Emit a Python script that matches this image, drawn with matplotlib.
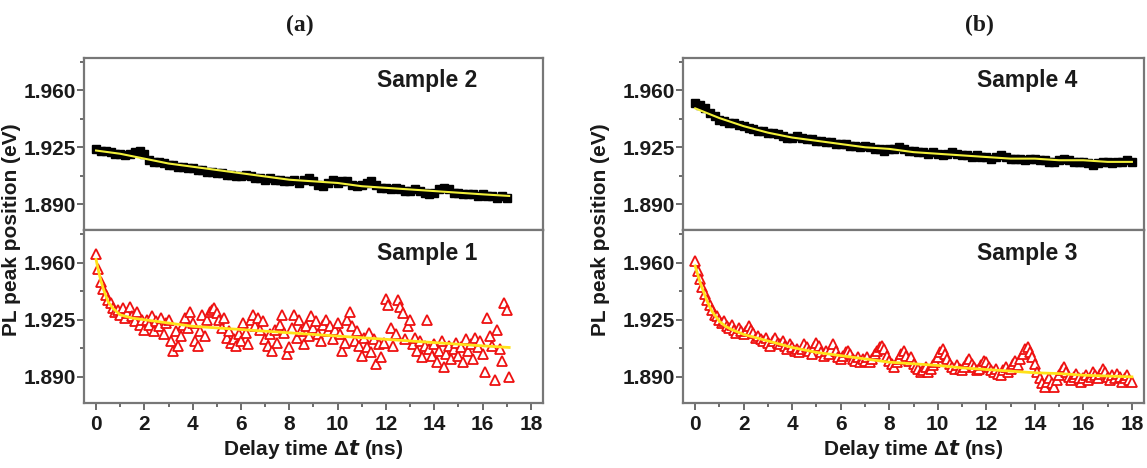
"""PL peak position vs delay time for four samples, two stacked panels (a) and (b)."""

import matplotlib

matplotlib.use("Agg")
import matplotlib.pyplot as plt
import numpy as np
from matplotlib.ticker import FormatStrFormatter, MultipleLocator

# ---- data ------------------------------------------------------------------

# Sample 2 (panel a, top): sampled every 0.2 ns from 0 to 17.0 ns
s2_time = np.arange(0, 17.05, 0.2)
s2_peak = [
    1.924, 1.923, 1.923, 1.922, 1.921, 1.921, 1.920, 1.921, 1.922, 1.923,
    1.921, 1.917, 1.916, 1.916, 1.915, 1.914, 1.914, 1.913, 1.913, 1.912,
    1.912, 1.911, 1.911, 1.910, 1.910, 1.909, 1.909, 1.908, 1.908, 1.907,
    1.907, 1.908, 1.907, 1.906, 1.906, 1.905, 1.906, 1.905, 1.905, 1.904,
    1.904, 1.905, 1.903, 1.905, 1.906, 1.904, 1.902, 1.901, 1.903, 1.905,
    1.903, 1.904, 1.904, 1.902, 1.901, 1.902, 1.903, 1.904, 1.902, 1.900,
    1.900, 1.899, 1.900, 1.899, 1.898, 1.898, 1.899, 1.898, 1.897, 1.896,
    1.897, 1.899, 1.900, 1.899, 1.897, 1.897, 1.896, 1.896, 1.896, 1.895,
    1.896, 1.895, 1.895, 1.894, 1.895, 1.894,
]
s2_fit_time = [0, 1, 2, 3, 4, 5, 6, 7, 8, 9, 10, 11, 12, 13, 14, 15, 16, 17.1]
s2_fit_peak = [1.923, 1.921, 1.918, 1.915, 1.913, 1.911, 1.909, 1.907, 1.905,
               1.904, 1.903, 1.901, 1.900, 1.899, 1.898, 1.897, 1.896, 1.895]

# Sample 1 (panel a, bottom): sampled every 0.1 ns from 0 to 17.1 ns
s1_time = np.arange(0, 17.15, 0.1)
s1_peak = [
    1.965, 1.956, 1.948, 1.944, 1.940, 1.937, 1.935, 1.932, 1.930, 1.931,
    1.928, 1.932, 1.926, 1.929, 1.933, 1.927, 1.924, 1.930, 1.922, 1.925,
    1.919, 1.925, 1.922, 1.927, 1.918, 1.924, 1.921, 1.926, 1.916, 1.923,
    1.925, 1.912, 1.906, 1.918, 1.909, 1.915, 1.922, 1.926, 1.920, 1.930,
    1.923, 1.912, 1.909, 1.918, 1.928, 1.915, 1.925, 1.930, 1.931, 1.932,
    1.929, 1.925, 1.920, 1.926, 1.914, 1.918, 1.911, 1.913, 1.909, 1.916,
    1.912, 1.923, 1.917, 1.910, 1.925, 1.928, 1.921, 1.926, 1.919, 1.924,
    1.913, 1.909, 1.916, 1.906, 1.919, 1.911, 1.922, 1.928, 1.917, 1.904,
    1.908, 1.920, 1.928, 1.914, 1.925, 1.918, 1.910, 1.921, 1.915, 1.927,
    1.920, 1.924, 1.916, 1.912, 1.922, 1.925, 1.918, 1.921, 1.913, 1.919,
    1.923, 1.916, 1.906, 1.911, 1.925, 1.930, 1.921, 1.912, 1.918, 1.909,
    1.903, 1.914, 1.908, 1.917, 1.905, 1.913, 1.898, 1.910, 1.902, 1.911,
    1.938, 1.934, 1.920, 1.909, 1.916, 1.937, 1.933, 1.929, 1.913, 1.921,
    1.925, 1.910, 1.914, 1.906, 1.912, 1.902, 1.909, 1.925, 1.907, 1.903,
    1.910, 1.899, 1.906, 1.912, 1.896, 1.904, 1.909, 1.901, 1.907, 1.911,
    1.903, 1.908, 1.899, 1.913, 1.906, 1.910, 1.901, 1.914, 1.908, 1.912,
    1.904, 1.893, 1.926, 1.915, 1.909, 1.888, 1.919, 1.907, 1.900, 1.935,
    1.931, 1.890,
]
s1_fit_time = [0, 0.1, 0.2, 0.3, 0.4, 0.5, 0.7, 1.0, 1.5, 2, 3, 4, 6, 8, 10,
               12, 14, 16, 17.1]
s1_fit_peak = [1.962, 1.955, 1.949, 1.944, 1.940, 1.936, 1.932, 1.928, 1.926,
               1.925, 1.923, 1.921, 1.919, 1.917, 1.915, 1.913, 1.911, 1.909,
               1.908]

# Sample 4 (panel b, top): sampled every 0.2 ns from 0 to 18.0 ns
s4_time = np.arange(0, 18.05, 0.2)
s4_peak = [
    1.952, 1.951, 1.949, 1.946, 1.944, 1.942, 1.941, 1.940, 1.940, 1.939,
    1.938, 1.937, 1.936, 1.935, 1.935, 1.934, 1.934, 1.933, 1.932, 1.931,
    1.931, 1.932, 1.931, 1.930, 1.930, 1.929, 1.929, 1.928, 1.928, 1.927,
    1.927, 1.927, 1.926, 1.926, 1.925, 1.926, 1.925, 1.924, 1.924, 1.923,
    1.924, 1.924, 1.925, 1.924, 1.923, 1.923, 1.922, 1.922, 1.921, 1.922,
    1.921, 1.920, 1.921, 1.922, 1.921, 1.920, 1.920, 1.919, 1.920, 1.919,
    1.919, 1.918, 1.919, 1.920, 1.919, 1.918, 1.918, 1.918, 1.917, 1.918,
    1.918, 1.917, 1.917, 1.916, 1.916, 1.917, 1.918, 1.917, 1.916, 1.916,
    1.916, 1.915, 1.914, 1.915, 1.916, 1.916, 1.915, 1.916, 1.916, 1.917,
    1.916,
]
s4_fit_time = [0, 0.5, 1, 2, 3, 4, 5, 6, 7, 8, 9, 10, 11, 12, 13, 14, 15, 16,
               17, 18]
s4_fit_peak = [1.949, 1.946, 1.943, 1.938, 1.934, 1.931, 1.929, 1.927, 1.925,
               1.924, 1.922, 1.921, 1.920, 1.919, 1.918, 1.918, 1.917, 1.917,
               1.916, 1.916]

# Sample 3 (panel b, bottom): sampled every 0.1 ns from 0 to 18.0 ns
s3_time = np.arange(0, 18.05, 0.1)
s3_peak = [
    1.961, 1.955, 1.950, 1.945, 1.941, 1.937, 1.934, 1.931, 1.928, 1.927,
    1.925, 1.923, 1.924, 1.921, 1.920, 1.922, 1.919, 1.917, 1.920, 1.918,
    1.916, 1.918, 1.921, 1.919, 1.917, 1.914, 1.915, 1.913, 1.912, 1.914,
    1.911, 1.909, 1.912, 1.914, 1.911, 1.910, 1.912, 1.909, 1.907, 1.910,
    1.908, 1.906, 1.907, 1.905, 1.907, 1.910, 1.908, 1.906, 1.904, 1.908,
    1.911, 1.909, 1.905, 1.903, 1.906, 1.904, 1.907, 1.910, 1.906, 1.902,
    1.901, 1.903, 1.905, 1.906, 1.904, 1.901, 1.900, 1.902, 1.899, 1.901,
    1.900, 1.902, 1.899, 1.901, 1.904, 1.906, 1.908, 1.909, 1.907, 1.903,
    1.900, 1.898, 1.896, 1.899, 1.901, 1.904, 1.906, 1.903, 1.900, 1.902,
    1.898, 1.896, 1.895, 1.893, 1.894, 1.896, 1.893, 1.895, 1.897, 1.899,
    1.902, 1.905, 1.907, 1.904, 1.901, 1.898, 1.896, 1.895, 1.897, 1.895,
    1.894, 1.896, 1.899, 1.901, 1.898, 1.896, 1.894, 1.895, 1.897, 1.900,
    1.899, 1.896, 1.894, 1.893, 1.895, 1.892, 1.891, 1.894, 1.896, 1.893,
    1.895, 1.898, 1.900, 1.897, 1.901, 1.904, 1.907, 1.908, 1.905, 1.902,
    1.898, 1.893, 1.889, 1.886, 1.884, 1.887, 1.889, 1.886, 1.884, 1.888,
    1.891, 1.894, 1.896, 1.893, 1.890, 1.888, 1.890, 1.892, 1.889, 1.887,
    1.889, 1.891, 1.888, 1.890, 1.893, 1.891, 1.889, 1.892, 1.895, 1.893,
    1.890, 1.888, 1.891, 1.889, 1.892, 1.890, 1.887, 1.889, 1.891, 1.888,
    1.887,
]
s3_fit_time = [0, 0.1, 0.2, 0.3, 0.4, 0.5, 0.6, 0.7, 0.8, 0.9, 1.0, 1.25, 1.5,
               2, 2.5, 3, 4, 5, 6, 7, 8, 9, 10, 11, 12, 13, 14, 15, 16, 17, 18]
s3_fit_peak = [1.958, 1.953, 1.948, 1.944, 1.940, 1.936, 1.933, 1.930, 1.928,
               1.926, 1.924, 1.921, 1.919, 1.916, 1.914, 1.912, 1.908, 1.905,
               1.903, 1.901, 1.899, 1.898, 1.897, 1.8955, 1.8945, 1.8935,
               1.8925, 1.892, 1.891, 1.8905, 1.890]

x_ticks = [0, 2, 4, 6, 8, 10, 12, 14, 16, 18]
y_ticks = [1.890, 1.925, 1.960]
panel_labels = ["(a)", "(b)"]

# ---- styling ---------------------------------------------------------------

plt.rcParams["font.family"] = ["Liberation Sans", "DejaVu Sans"]
plt.rcParams["font.weight"] = "bold"
plt.rcParams["axes.labelweight"] = "bold"
# the italic "Δt" in the x label: DejaVu ships a bold oblique face
plt.rcParams["mathtext.fontset"] = "custom"
plt.rcParams["mathtext.rm"] = "Liberation Sans:bold"
plt.rcParams["mathtext.it"] = "DejaVu Sans:italic:bold"

FRAME = "#777777"
TEXT = "#1a1a1a"


def style_axes(ax, bottom_row):
    ax.set_xlim(-0.5, 18.5)
    ax.set_ylim(1.874, 1.980)
    ax.set_yticks(y_ticks)
    ax.yaxis.set_minor_locator(MultipleLocator(0.0175))
    ax.yaxis.set_major_formatter(FormatStrFormatter("%.3f"))
    ax.set_xticks(x_ticks)
    ax.xaxis.set_minor_locator(MultipleLocator(1))
    for spine in ax.spines.values():
        spine.set_color(FRAME)
        spine.set_linewidth(1.6)
    ax.tick_params(axis="both", which="both", direction="out", color="#444444",
                   labelsize=15, labelcolor=TEXT, width=1.1)
    ax.tick_params(which="major", length=5)
    ax.tick_params(which="minor", length=3)
    ax.tick_params(axis="y", pad=1)
    if not bottom_row:
        ax.tick_params(axis="x", which="both", bottom=False, labelbottom=False)


def draw_panel(left, width, top_data, bottom_data, label_top, label_bottom):
    fig_bottom, fig_mid, fig_top = 0.139, 0.5085, 0.876
    ax_top = fig.add_axes([left, fig_mid, width, fig_top - fig_mid])
    ax_bot = fig.add_axes([left, fig_bottom, width, fig_mid - fig_bottom])

    t, y, ft, fy = top_data
    ax_top.plot(t, y, ls="none", marker="s", ms=5.5, color="black")
    ax_top.plot(ft, fy, color="#f2f03a", lw=1.5)
    ax_top.text(13.7, 1.966, label_top, ha="center", va="center",
                fontsize=16.5, color=TEXT)

    t, y, ft, fy = bottom_data
    ax_bot.plot(t, y, ls="none", marker="^", ms=6.5, mfc="white",
                mec="#ee1111", mew=1.3)
    ax_bot.plot(ft, fy, color="#ffe21a", lw=2)
    ax_bot.text(13.7, 1.9655, label_bottom, ha="center", va="center",
                fontsize=16.5, color=TEXT)
    ax_bot.set_xlabel("Delay time $\\mathit{Δt}$ (ns)", fontsize=15,
                      color=TEXT, labelpad=3)

    style_axes(ax_top, bottom_row=False)
    style_axes(ax_bot, bottom_row=True)
    return ax_top, ax_bot


fig = plt.figure(figsize=(11.47, 4.68), dpi=100)

draw_panel(0.0732, 0.4002,
           (s2_time, s2_peak, s2_fit_time, s2_fit_peak),
           (s1_time, s1_peak, s1_fit_time, s1_fit_peak),
           "Sample 2", "Sample 1")
draw_panel(0.5955, 0.4019,
           (s4_time, s4_peak, s4_fit_time, s4_fit_peak),
           (s3_time, s3_peak, s3_fit_time, s3_fit_peak),
           "Sample 4", "Sample 3")

for xpos, text in zip([300 / 1147, 979 / 1147], panel_labels):
    fig.text(xpos, 1 - 25 / 468, text, ha="center", va="center", fontsize=17,
             family="Liberation Serif", weight="bold", color=TEXT)

for xpos in [12 / 1147, 601 / 1147]:
    fig.text(xpos, 0.5085, "PL peak position (eV)", rotation=90, ha="center",
             va="center", fontsize=15, color=TEXT)

fig.savefig("out.png", dpi=100)
